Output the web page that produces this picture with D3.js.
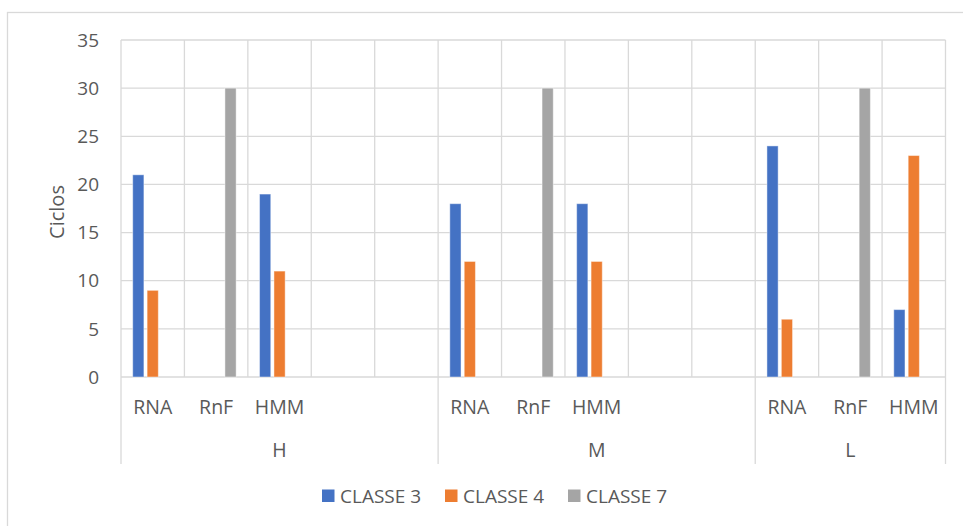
<!DOCTYPE html>
<html>
<head>
<meta charset="utf-8">
<script src="https://cdn.jsdelivr.net/npm/d3@7"></script>
<style>
  html, body { margin: 0; padding: 0; background: #ffffff; }
  svg { display: block; }
  text { font-family: "Open Sans", "Noto Sans", sans-serif; fill: #595959; }
</style>
</head>
<body>
<svg id="chart" width="963" height="526"></svg>
<script>
// Chart data
const groupLabels = ["H", "M", "L"];
const categoryLabels = ["RNA", "RnF", "HMM", "", "", "RNA", "RnF", "HMM", "", "", "RNA", "RnF", "HMM"];
const categoryGroup = [0, 0, 0, 0, 0, 1, 1, 1, 1, 1, 2, 2, 2];
const seriesNames = ["CLASSE 3", "CLASSE 4", "CLASSE 7"];
const classe3 = [21, null, 19, null, null, 18, null, 18, null, null, 24, null, 7];
const classe4 = [9, null, 11, null, null, 12, null, 12, null, null, 6, null, 23];
const classe7 = [null, 30, null, null, null, null, 30, null, null, null, null, 30, null];
const yTicks = [0, 5, 10, 15, 20, 25, 30, 35];
const seriesColors = ["#4472C4", "#ED7D31", "#A5A5A5"];
const yTitle = "Ciclos";

const series = [classe3, classe4, classe7];

const svg = d3.select("#chart");
const gridColor = "#d9d9d9";

// Outer chart frame
svg.append("rect")
  .attr("x", 7.5).attr("y", 12.5)
  .attr("width", 980).attr("height", 540)
  .attr("fill", "none")
  .attr("stroke", gridColor)
  .attr("stroke-width", 1.3);

const plot = { left: 121, right: 945.5, top: 40, bottom: 377 };

const x = d3.scaleBand()
  .domain(d3.range(categoryLabels.length))
  .range([plot.left, plot.right])
  .paddingInner(0).paddingOuter(0);

const xInner = d3.scaleBand()
  .domain(d3.range(series.length))
  .range([0, x.bandwidth()])
  .paddingInner(0.222)
  .paddingOuter(0.8125);

const y = d3.scaleLinear()
  .domain([0, 35])
  .range([plot.bottom, plot.top]);

// Horizontal gridlines
svg.append("g")
  .selectAll("line")
  .data(yTicks)
  .join("line")
  .attr("x1", plot.left).attr("x2", plot.right)
  .attr("y1", d => y(d)).attr("y2", d => y(d))
  .attr("stroke", gridColor)
  .attr("stroke-width", 1.3);

// Vertical gridlines at category boundaries
const boundaries = d3.range(categoryLabels.length + 1).map(i =>
  i < categoryLabels.length ? x(i) : plot.right);
svg.append("g")
  .selectAll("line")
  .data(boundaries)
  .join("line")
  .attr("x1", d => d).attr("x2", d => d)
  .attr("y1", plot.top).attr("y2", plot.bottom)
  .attr("stroke", gridColor)
  .attr("stroke-width", 1.3);

// Group separators below the axis
const groupStarts = groupLabels.map((g, gi) => categoryGroup.indexOf(gi));
const groupEnds = groupLabels.map((g, gi) => categoryGroup.lastIndexOf(gi));
const sepX = groupStarts.map(i => x(i)).concat([plot.right]);
svg.append("g")
  .selectAll("line")
  .data(sepX)
  .join("line")
  .attr("x1", d => d).attr("x2", d => d)
  .attr("y1", plot.bottom).attr("y2", 464)
  .attr("stroke", gridColor)
  .attr("stroke-width", 1.3);

// Y axis tick labels
svg.append("g")
  .selectAll("text")
  .data(yTicks)
  .join("text")
  .attr("x", 99)
  .attr("y", d => y(d))
  .attr("dy", "0.35em")
  .attr("text-anchor", "end")
  .style("font-size", "19px")
  .text(d => d);

// Y axis title
svg.append("text")
  .attr("transform", "translate(64,212) rotate(-90)")
  .attr("text-anchor", "middle")
  .style("font-size", "20px")
  .text(yTitle);

// Bars
series.forEach((vals, si) => {
  svg.append("g")
    .selectAll("rect")
    .data(vals.map((v, i) => ({ v, i })).filter(d => d.v != null))
    .join("rect")
    .attr("x", d => x(d.i) + xInner(si))
    .attr("y", d => y(d.v))
    .attr("width", xInner.bandwidth())
    .attr("height", d => y(0) - y(d.v))
    .attr("fill", seriesColors[si])
    .attr("stroke", "#ffffff")
    .attr("stroke-opacity", 0.45)
    .attr("stroke-width", 1);
});

// Category labels
svg.append("g")
  .selectAll("text")
  .data(categoryLabels.map((c, i) => ({ c, i })).filter(d => d.c !== ""))
  .join("text")
  .attr("x", d => x(d.i) + x.bandwidth() / 2)
  .attr("y", 407)
  .attr("dy", "0.35em")
  .attr("text-anchor", "middle")
  .style("font-size", "19.5px")
  .text(d => d.c);

// Group labels
svg.append("g")
  .selectAll("text")
  .data(groupLabels.map((g, gi) => ({ g, gi })))
  .join("text")
  .attr("x", d => (x(groupStarts[d.gi]) + x(groupEnds[d.gi]) + x.bandwidth()) / 2)
  .attr("y", 450)
  .attr("dy", "0.35em")
  .attr("text-anchor", "middle")
  .style("font-size", "19.5px")
  .text(d => d.g);

// Legend
const legend = svg.append("g")
  .selectAll("g")
  .data(seriesNames)
  .join("g")
  .attr("transform", (d, i) => `translate(${322 + i * 123},496)`);
legend.append("rect")
  .attr("x", 0).attr("y", -6.5)
  .attr("width", 12.5).attr("height", 12.5)
  .attr("fill", (d, i) => seriesColors[i]);
legend.append("text")
  .attr("x", 18)
  .attr("y", 0)
  .attr("dy", "0.35em")
  .style("font-size", "19px")
  .text(d => d);
</script>
</body>
</html>
